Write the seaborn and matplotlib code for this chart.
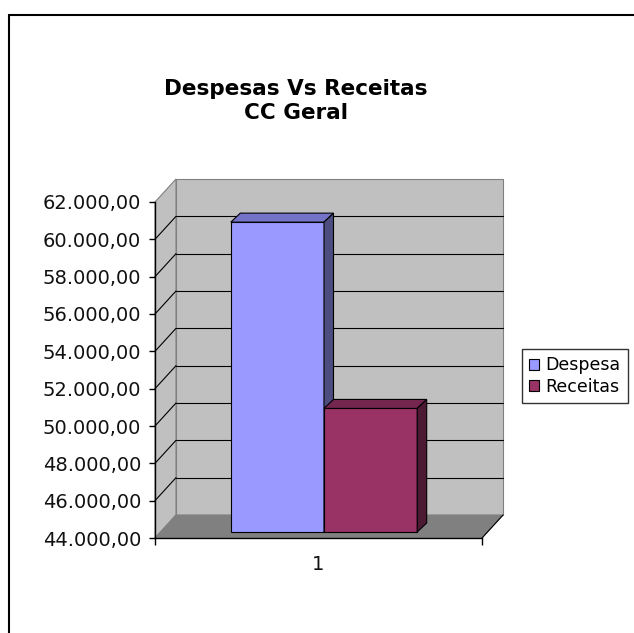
import numpy as np
import pandas as pd
import matplotlib
matplotlib.use("Agg")
import matplotlib.pyplot as plt
import seaborn as sns
from matplotlib.patches import Polygon, Rectangle, Patch
from matplotlib.transforms import Affine2D, IdentityTransform
from matplotlib.lines import Line2D

# data
categoria = ["1", "1"]
series = ["Despesa", "Receitas"]
valores = [60600, 50620]
y_ticks = [44000, 46000, 48000, 50000, 52000, 54000, 56000, 58000, 60000, 62000]
y_labels = ["44.000,00", "46.000,00", "48.000,00", "50.000,00", "52.000,00",
            "54.000,00", "56.000,00", "58.000,00", "60.000,00", "62.000,00"]
titulo = "Despesas Vs Receitas\nCC Geral"

cores_frente = ["#9999FF", "#993366"]
cores_topo = ["#7373C8", "#74264F"]
cores_lado = ["#4D4D80", "#4D1A33"]

df = pd.DataFrame({"grupo": categoria, "serie": series, "valor": valores})

sns.set_style("white")
plt.rcParams["font.family"] = ["DejaVu Sans"]

W, H = 634, 633
fig = plt.figure(figsize=(W / 100, H / 100), dpi=100)
ax = fig.add_axes([155 / W, 1 - 538 / H, 327 / W, 336 / H])
ax.patch.set_visible(False)

sns.barplot(data=df, x="grupo", y="valor", hue="serie", palette=cores_frente,
            saturation=1, width=0.57, edgecolor="black", linewidth=0.8,
            legend=False, ax=ax)

y_min, y_max = y_ticks[0], y_ticks[-1]
ax.set_xlim(-0.5, 0.5)
ax.set_ylim(y_min, y_max)

# 3D offsets in display pixels
WALL = np.array([21.0, 23.0])
SHIFT = np.array([5.5, 6.0])
DEPTH = np.array([9.5, 9.0])
wall_tr = ax.transData + Affine2D().translate(*WALL)
td = ax.transData.transform

# back wall + gridlines
ax.add_patch(Rectangle((-0.5, y_min), 1, y_max - y_min, transform=wall_tr,
                       facecolor="#C0C0C0", edgecolor="#808080", lw=0.8,
                       clip_on=False, zorder=0.1))
for v in y_ticks[1:-1]:
    ax.add_line(Line2D([-0.5, 0.5], [v, v], transform=wall_tr, color="black",
                       lw=0.8, clip_on=False, zorder=0.2))

# left side wall
f0, f1 = td((-0.5, y_min)), td((-0.5, y_max))
ax.add_patch(Polygon([f0, f1, f1 + WALL, f0 + WALL], closed=True,
                     transform=IdentityTransform(), facecolor="#C0C0C0",
                     edgecolor="#808080", lw=0.8, clip_on=False, zorder=0.1))
for v in y_ticks[1:-1]:
    p = td((-0.5, v))
    ax.add_line(Line2D([p[0], p[0] + WALL[0]], [p[1], p[1] + WALL[1]],
                       transform=IdentityTransform(), color="black", lw=0.8,
                       clip_on=False, zorder=0.2))

# floor
g0, g1 = td((-0.5, y_min)), td((0.5, y_min))
ax.add_patch(Polygon([g0, g1, g1 + WALL, g0 + WALL], closed=True,
                     transform=IdentityTransform(), facecolor="#808080",
                     edgecolor="#808080", lw=0.8, clip_on=False, zorder=0.3))
ax.add_line(Line2D([g1[0], g1[0] + WALL[0]], [g1[1], g1[1] + WALL[1]],
                   transform=IdentityTransform(), color="black", lw=0.8,
                   clip_on=False, zorder=0.4))

# bars: move to mid depth and add top / side faces
for i, cont in enumerate(ax.containers):
    for p in cont.patches:
        x0, w, h = p.get_x(), p.get_width(), p.get_height()
        p.set_y(y_min)
        p.set_height(h - y_min)
        p.set_transform(ax.transData + Affine2D().translate(*SHIFT))
        p.set_clip_on(False)
        p.set_zorder(2 + i)
        a = td((x0, h)) + SHIFT
        b = td((x0 + w, h)) + SHIFT
        c = td((x0 + w, y_min)) + SHIFT
        ax.add_patch(Polygon([a, b, b + DEPTH, a + DEPTH], closed=True,
                             transform=IdentityTransform(), facecolor=cores_topo[i],
                             edgecolor="black", lw=0.8, clip_on=False, zorder=2 + i))
        ax.add_patch(Polygon([c, b, b + DEPTH, c + DEPTH], closed=True,
                             transform=IdentityTransform(), facecolor=cores_lado[i],
                             edgecolor="black", lw=0.8, clip_on=False, zorder=2 + i))

# axes styling
for s in ["top", "right"]:
    ax.spines[s].set_visible(False)
for s in ["left", "bottom"]:
    ax.spines[s].set_color("black")
    ax.spines[s].set_linewidth(1.0)
ax.set_yticks(y_ticks)
ax.set_yticklabels(y_labels)
ax.set_xticks([0])
ax.set_xticklabels(["1"])
ax.set_xticks([-0.5, 0.5], minor=True)
ax.tick_params(axis="y", left=True, direction="out", length=4, width=1,
               color="black", pad=6, labelsize=14, labelcolor="#111111")
ax.tick_params(axis="x", which="major", length=0, pad=12, labelsize=14,
               labelcolor="#111111")
ax.tick_params(axis="x", which="minor", bottom=True, direction="out", length=5,
               width=1, color="black")
ax.set_xlabel("")
ax.set_ylabel("")

fig.text(296 / W, 1 - 101 / H, titulo, ha="center", va="center", color="black",
         fontsize=15.5, fontweight="bold", linespacing=1.3)

handles = [Patch(facecolor=c, edgecolor="black", lw=0.8) for c in cores_frente]
leg = ax.legend(handles, series, loc="center left",
                bbox_to_anchor=(522 / W, 1 - 376 / H), bbox_transform=fig.transFigure,
                frameon=True, fancybox=False, edgecolor="black", fontsize=12.5,
                handlelength=0.6, handleheight=0.6, handletextpad=0.35,
                borderpad=0.4, labelspacing=0.2, borderaxespad=0)
leg.get_frame().set_linewidth(1.0)
for t in leg.get_texts():
    t.set_color("black")

# chart area frame
fig.add_artist(Line2D([9 / W, 9 / W], [0, 1 - 15 / H], color="black", lw=1.5))
fig.add_artist(Line2D([9 / W, 1], [1 - 15 / H, 1 - 15 / H], color="black", lw=1.5))

fig.savefig("out.png", dpi=100)
